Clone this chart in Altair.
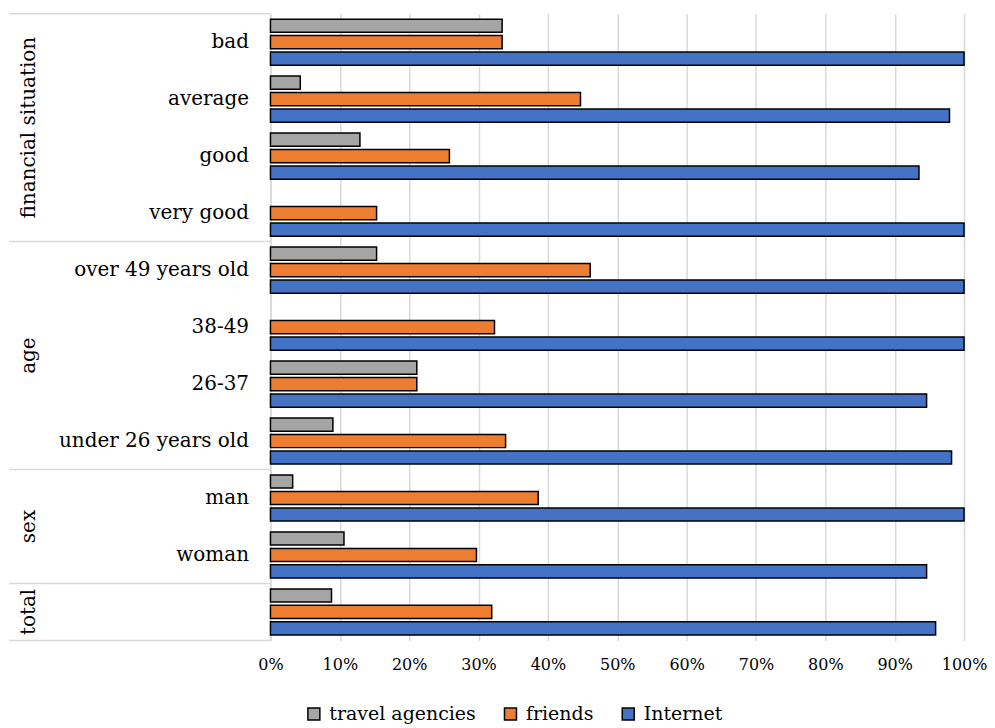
import altair as alt
import pandas as pd

categories = ["bad", "average", "good", "very good",
              "over 49 years old", "38-49", "26-37", "under 26 years old",
              "man", "woman", "total"]
groups = ["financial situation"] * 4 + ["age"] * 4 + ["sex"] * 2 + ["total"]
series = ["travel agencies", "friends", "Internet"]
colors = ["#A5A5A5", "#ED7D31", "#4472C4"]

travel = [33.4, 4.3, 12.9, 0.0, 15.3, 0.0, 21.1, 9.0, 3.2, 10.6, 8.8]
friends = [33.4, 44.7, 25.8, 15.3, 46.1, 32.3, 21.1, 33.9, 38.6, 29.7, 31.9]
internet = [100.0, 97.9, 93.5, 100.0, 100.0, 100.0, 94.6, 98.2, 100.0, 94.6, 95.9]
x_ticks = list(range(0, 101, 10))

FONT = "DejaVu Serif"
GRID = "#D9D9D9"

rows = []
for i, c in enumerate(categories):
    for s, vals in zip(series, [travel, friends, internet]):
        rows.append({"category": c, "series": s, "value": vals[i]})
df = pd.DataFrame(rows)

group_rows = []
start = 0
for i in range(1, len(groups) + 1):
    if i == len(groups) or groups[i] != groups[start]:
        group_rows.append({"group": groups[start], "start": start, "end": i,
                           "mid": (start + i) / 2})
        start = i
gdf = pd.DataFrame(group_rows)
bounds = sorted(set(gdf["start"].tolist() + gdf["end"].tolist()))
bdf = pd.DataFrame({"pos": bounds})
n = len(categories)

yq = alt.Scale(domain=[0, n], reverse=True, nice=False, zero=False)

bars = alt.Chart(df).transform_filter("datum.value > 0").mark_bar(
    stroke="black", strokeWidth=1.5
).encode(
    x=alt.X("value:Q", scale=alt.Scale(domain=[0, 100], nice=False),
            axis=alt.Axis(values=x_ticks, labelExpr="datum.value + '%'", title=None,
                          grid=True, gridColor=GRID, gridWidth=1.5, domain=False,
                          ticks=False, labelFontSize=16, labelPadding=16,
                          labelFlush=False, labelOverlap=False,
                          labelFont=FONT, labelColor="black")),
    y=alt.Y("category:N", sort=categories,
            scale=alt.Scale(domain=categories, paddingInner=0.19, paddingOuter=0.095),
            axis=alt.Axis(title=None, ticks=False, domain=True, domainColor=GRID,
                          domainWidth=1.5, labelFontSize=20, labelPadding=22,
                          labelExpr="datum.value == 'total' ? '' : datum.value",
                          labelColor="black", labelFont=FONT, labelLimit=400)),
    yOffset=alt.YOffset("series:N", sort=series,
                        scale=alt.Scale(domain=series, paddingInner=0.2, paddingOuter=0)),
    color=alt.Color("series:N", sort=series,
                    scale=alt.Scale(domain=series, range=colors),
                    legend=alt.Legend(title=None, orient="none", legendX=34, legendY=692,
                                      direction="horizontal", symbolType="square",
                                      symbolSize=144, symbolStrokeColor="black",
                                      symbolStrokeWidth=1.5, symbolOpacity=1,
                                      labelFontSize=19, labelFont=FONT, labelLimit=400,
                                      labelColor="black", columnPadding=25,
                                      labelOffset=6)),
)

rules = alt.Chart(bdf).mark_rule(color=GRID, strokeWidth=1.5).encode(
    y=alt.Y("pos:Q", scale=yq, axis=None),
    x=alt.value(-262),
    x2=alt.value(0),
)

gtext = alt.Chart(gdf).mark_text(
    angle=270, fontSize=20, font=FONT, color="black", baseline="middle", align="center"
).encode(
    y=alt.Y("mid:Q", scale=yq, axis=None),
    x=alt.value(-242),
    text="group:N",
)

chart = alt.layer(bars, rules, gtext).resolve_scale(y="independent").properties(
    width=695, height=628,
    padding={"left": 0, "top": 4, "right": 0, "bottom": 4},
).configure_view(stroke=None).configure_legend(labelFont=FONT)

chart.save("out.html", embed_options={"renderer": "svg", "actions": False})
